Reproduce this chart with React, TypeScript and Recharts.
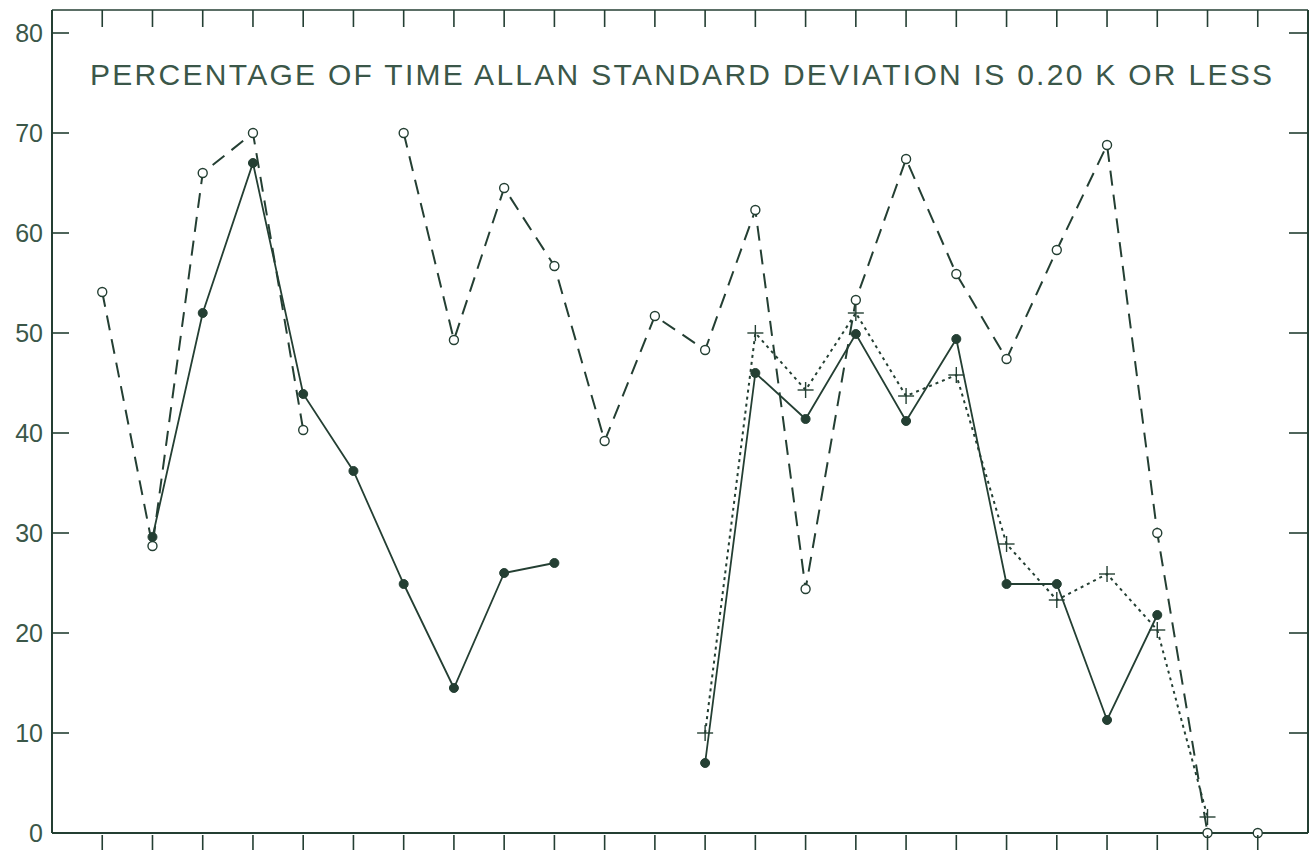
import { LineChart, Line, XAxis, YAxis } from 'recharts'

// x positions: 24 equally spaced observation slots
const slots = Array.from({ length: 24 }, (_, i) => i)

// open circles, long dashes
const seriesOpen: (number | null)[] = [
  54.1, 28.7, 66, 70, 40.3, null, 70, 49.3, 64.5, 56.7, 39.2, 51.7,
  48.3, 62.3, 24.4, 53.3, 67.4, 55.9, 47.4, 58.3, 68.8, 30, 0, 0,
]
// filled circles, solid
const seriesFilled: (number | null)[] = [
  null, 29.6, 52, 67, 43.9, 36.2, 24.9, 14.5, 26, 27, null, null,
  7, 46, 41.4, 49.9, 41.2, 49.4, 24.9, 24.9, 11.3, 21.8, null, null,
]
// plus markers, dotted
const seriesPlus: (number | null)[] = [
  null, null, null, null, null, null, null, null, null, null, null, null,
  10, 50, 44.3, 52, 43.7, 45.8, 28.9, 23.3, 25.9, 20.3, 1.6, null,
]

const yTicks = [0, 10, 20, 30, 40, 50, 60, 70, 80]
const title = 'PERCENTAGE OF TIME ALLAN STANDARD DEVIATION IS 0.20 K OR LESS'

const data = slots.map((i) => ({
  i,
  open: seriesOpen[i],
  filled: seriesFilled[i],
  plus: seriesPlus[i],
}))

const INK = '#243f33'
const TEXT = '#3b5749'

function LeftTick(props: any) {
  const { x, y, payload } = props
  return (
    <g>
      <line x1={x + 9} y1={y} x2={x + 26} y2={y} stroke={INK} strokeWidth={1.6} />
      <text
        x={x}
        y={y}
        dy={9}
        textAnchor="end"
        fill={TEXT}
        fontSize={25}
        fontFamily="'Liberation Sans', Arial, sans-serif"
      >
        {payload.value}
      </text>
    </g>
  )
}

function RightTick(props: any) {
  const { x, y } = props
  return <line x1={x - 19} y1={y} x2={x} y2={y} stroke={INK} strokeWidth={1.6} />
}

function TopTick(props: any) {
  const { x, y } = props
  return <line x1={x} y1={y} x2={x} y2={y + 17} stroke={INK} strokeWidth={1.6} />
}

function BottomTick(props: any) {
  const { x, y } = props
  return <line x1={x} y1={y} x2={x} y2={y + 15} stroke={INK} strokeWidth={1.6} />
}

function PlusDot(props: any) {
  const { cx, cy, value } = props
  if (value == null || cx == null || cy == null) return <g />
  return (
    <g>
      <line x1={cx - 8} y1={cy} x2={cx + 8} y2={cy} stroke={INK} strokeWidth={1.4} />
      <line x1={cx} y1={cy - 8} x2={cx} y2={cy + 8} stroke={INK} strokeWidth={1.4} />
    </g>
  )
}

export default function App() {
  return (
    <div style={{ position: 'absolute', left: 0, top: 0, width: 1312, height: 853, background: '#fff' }}>
      <LineChart width={1312} height={853} data={data} margin={{ top: 0, right: 0, bottom: 0, left: 0 }}>
        <XAxis
          xAxisId="bottom"
          dataKey="i"
          type="number"
          domain={[-1, 24]}
          ticks={slots}
          height={20}
          tickSize={0}
          tickLine={false}
          tick={<BottomTick />}
          axisLine={{ stroke: INK, strokeWidth: 2 }}
        />
        <XAxis
          xAxisId="top"
          orientation="top"
          dataKey="i"
          type="number"
          domain={[-1, 24]}
          ticks={slots}
          height={10}
          tickSize={0}
          tickMargin={0}
          tickLine={false}
          tick={<TopTick />}
          axisLine={{ stroke: INK, strokeWidth: 1.6 }}
        />
        <YAxis
          yAxisId="left"
          domain={[0, 82.3]}
          ticks={yTicks}
          allowDataOverflow
          width={52}
          tickSize={0}
          tickMargin={9}
          tickLine={false}
          tick={<LeftTick />}
          axisLine={{ stroke: INK, strokeWidth: 2 }}
        />
        <YAxis
          yAxisId="right"
          orientation="right"
          domain={[0, 82.3]}
          ticks={yTicks}
          allowDataOverflow
          width={4}
          tickSize={0}
          tickMargin={0}
          tickLine={false}
          tick={<RightTick />}
          axisLine={{ stroke: INK, strokeWidth: 2 }}
        />
        <Line
          xAxisId="bottom"
          yAxisId="left"
          dataKey="open"
          stroke={INK}
          strokeWidth={2}
          strokeDasharray="15 9"
          dot={{ r: 4.5, fill: '#fff', stroke: INK, strokeWidth: 1.4, strokeDasharray: '0', clipDot: false }}
          isAnimationActive={false}
        />
        <Line
          xAxisId="bottom"
          yAxisId="left"
          dataKey="filled"
          stroke={INK}
          strokeWidth={1.8}
          dot={{ r: 4.5, fill: INK, stroke: INK, strokeWidth: 1, clipDot: false }}
          isAnimationActive={false}
        />
        <Line
          xAxisId="bottom"
          yAxisId="left"
          dataKey="plus"
          stroke={INK}
          strokeWidth={2}
          strokeDasharray="3 4"
          dot={<PlusDot />}
          isAnimationActive={false}
        />
      </LineChart>
      <svg
        width={1312}
        height={853}
        style={{ position: 'absolute', left: 0, top: 0, pointerEvents: 'none' }}
      >
        <text
          x={90}
          y={85}
          textLength={1182}
          lengthAdjust="spacing"
          fill={TEXT}
          fontSize={30}
          fontFamily="'Liberation Sans', Arial, sans-serif"
        >
          {title}
        </text>
      </svg>
    </div>
  )
}
